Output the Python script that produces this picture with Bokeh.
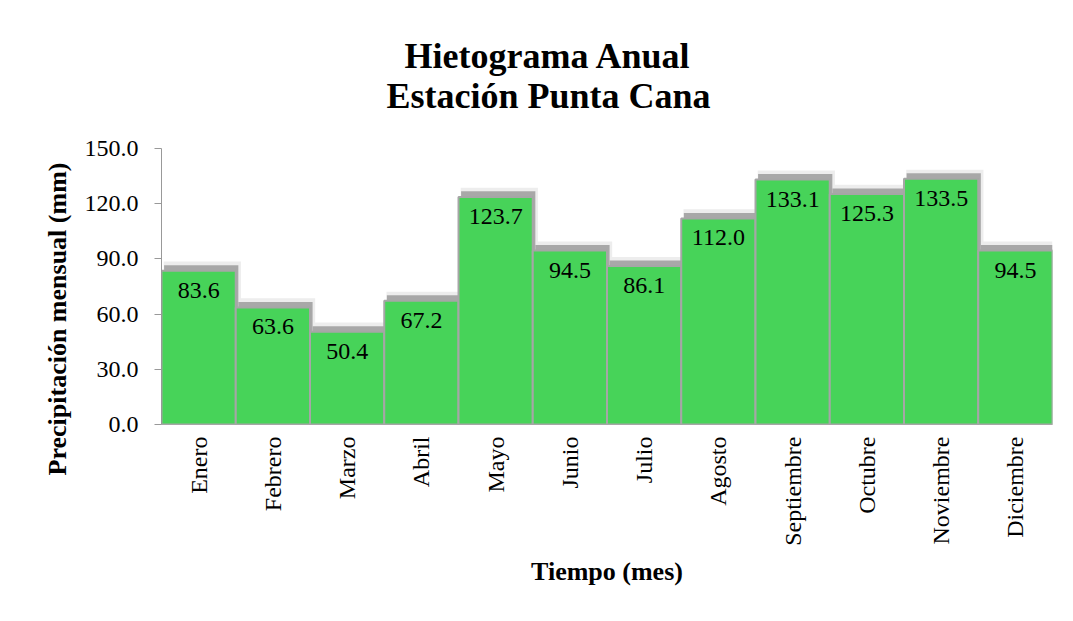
import math
from bokeh.plotting import figure
from bokeh.models import ColumnDataSource, FactorRange, Range1d, FixedTicker, PrintfTickFormatter
from bokeh.transform import dodge
from bokeh.core.properties import value
from bokeh.embed import file_html
from bokeh.resources import INLINE

months = ["Enero", "Febrero", "Marzo", "Abril", "Mayo", "Junio", "Julio",
          "Agosto", "Septiembre", "Octubre", "Noviembre", "Diciembre"]
precip = [83.6, 63.6, 50.4, 67.2, 123.7, 94.5, 86.1, 112.0, 133.1, 125.3, 133.5, 94.5]
y_ticks = [0, 30, 60, 90, 120, 150]
title_lines = ["Hietograma Anual", "Estación Punta Cana"]
y_title = "Precipitación mensual (mm)"
x_title = "Tiempo (mes)"

FONT = "Liberation Serif"

src = ColumnDataSource(dict(
    month=months,
    val=precip,
    halo=[v + 5.0 for v in precip],
    shade=[v + 3.0 for v in precip],
    lbl=["%.1f" % v for v in precip],
))

p = figure(width=1057, height=605, output_backend="svg", toolbar_location=None,
           x_range=FactorRange(*months, range_padding=0), y_range=Range1d(0, 150),
           min_border_left=161, min_border_right=5, min_border_top=148, min_border_bottom=181)
p.outline_line_color = None
p.grid.grid_line_color = None
p.background_fill_color = "white"

# two-line title (first line padded so both lines are centred on each other)
p.title.text = "\u00a0\u00a0" + title_lines[0] + "\n" + title_lines[1]
p.title.text_font = FONT
p.title.text_font_size = "36px"
p.title.text_font_style = "bold"
p.title.text_color = "black"
p.title.text_line_height = 1.0
p.title.align = "left"
p.title.offset = 225
p.title.standoff = 66

# shadows
p.vbar(x=dodge("month", 0.05, range=p.x_range), top="halo", width=1.04, bottom=0,
       source=src, fill_color="#ededed", line_color=None)
p.vbar(x=dodge("month", 0.035, range=p.x_range), top="shade", width=1.0, bottom=0,
       source=src, fill_color="#a8a8a8", line_color=None)
# bars
p.vbar(x="month", top="val", width=1.0, bottom=0, source=src,
       fill_color="#47d359", line_color="#a6a6a6", line_width=2)
# value labels
p.text(x="month", y="val", text="lbl", source=src, text_align="center",
       text_baseline="top", y_offset=12, text_font=value(FONT),
       text_font_size="24px", text_color="black")

# axes
p.yaxis.ticker = FixedTicker(ticks=y_ticks)
p.yaxis.formatter = PrintfTickFormatter(format="%.1f")
p.yaxis.axis_label = y_title + "\u00a0" * 10
p.yaxis.axis_line_color = "#999999"
p.yaxis.major_tick_line_color = "#999999"
p.yaxis.major_tick_in = 0
p.yaxis.major_tick_out = 7
p.yaxis.minor_tick_line_color = None
p.yaxis.major_label_standoff = 16
p.yaxis.axis_label_standoff = 10

p.xaxis.axis_label = x_title
p.xaxis.axis_line_color = "#a6a6a6"
p.xaxis.major_tick_line_color = None
p.xaxis.minor_tick_line_color = None
p.xaxis.major_label_orientation = math.pi / 2
p.xaxis.major_label_standoff = 6
p.xaxis.axis_label_standoff = 8

for ax in (p.xaxis, p.yaxis):
    ax.major_label_text_font = FONT
    ax.major_label_text_font_size = "24px"
    ax.major_label_text_color = "black"
    ax.axis_label_text_font = FONT
    ax.axis_label_text_font_size = "26px"
    ax.axis_label_text_font_style = "bold"
    ax.axis_label_text_color = "black"

open("out.html", "w").write(file_html(p, INLINE))
